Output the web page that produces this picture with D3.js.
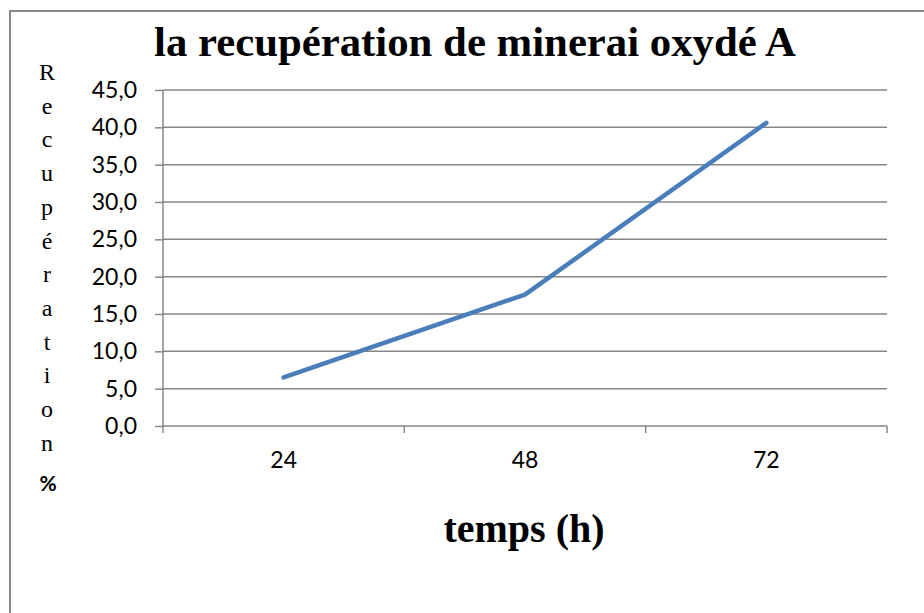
<!DOCTYPE html>
<html>
<head>
<meta charset="utf-8">
<script src="https://cdn.jsdelivr.net/npm/d3@7"></script>
<style>
  body { margin: 0; background: #fff; }
  svg { display: block; }
</style>
</head>
<body>
<svg width="924" height="613"></svg>
<script>
var categories = ["24", "48", "72"];
var recovery = [6.5, 17.6, 40.6];
var yTicks = [0, 5, 10, 15, 20, 25, 30, 35, 40, 45];
var yTitleLetters = ["R", "e", "c", "u", "p", "é", "r", "a", "t", "i", "o", "n"];

var svg = d3.select("svg"),
    width = +svg.attr("width"),
    height = +svg.attr("height");

var plot = { left: 163, right: 887, top: 90, bottom: 426 };
var gridColor = "#868686";

// chart frame, it runs off the right and bottom of the picture
svg.append("rect")
    .attr("x", 10)
    .attr("y", 11)
    .attr("width", 1000)
    .attr("height", 1000)
    .attr("fill", "none")
    .attr("stroke", "#888")
    .attr("stroke-width", 2);

var x = d3.scaleBand()
    .domain(categories)
    .range([plot.left, plot.right]);

var y = d3.scaleLinear()
    .domain([0, 45])
    .range([plot.bottom, plot.top]);

// horizontal gridlines
svg.append("g")
    .attr("class", "grid")
    .selectAll("line")
    .data(yTicks.filter(function(d) { return d > 0; }))
    .enter()
        .append("line")
        .attr("x1", plot.left)
        .attr("x2", plot.right)
        .attr("y1", function(d) { return y(d); })
        .attr("y2", function(d) { return y(d); })
        .attr("stroke", gridColor)
        .attr("stroke-width", 1.5);

// y axis
var yAxis = svg.append("g")
    .attr("transform", "translate(" + plot.left + ",0)")
    .call(d3.axisLeft(y)
        .tickValues(yTicks)
        .tickSize(8)
        .tickPadding(18)
        .tickFormat(function(d) { return d3.format(".1f")(d).replace(".", ","); }));

yAxis.select(".domain").remove();
yAxis.append("line")
    .attr("x1", 0).attr("x2", 0)
    .attr("y1", plot.top).attr("y2", plot.bottom + 7)
    .attr("stroke", gridColor)
    .attr("stroke-width", 1.5);
yAxis.selectAll(".tick line").attr("stroke", gridColor).attr("stroke-width", 1.5);
yAxis.selectAll(".tick text")
    .attr("fill", "#000")
    .style("font-family", "Lato, 'Open Sans', sans-serif")
    .style("font-size", "23px");

// x axis
var xAxis = svg.append("g")
    .attr("transform", "translate(0," + plot.bottom + ")");

xAxis.append("line")
    .attr("x1", plot.left).attr("x2", plot.right)
    .attr("stroke", gridColor)
    .attr("stroke-width", 1.5);

var edges = categories.map(function(c) { return x(c); }).concat([plot.right]);
xAxis.selectAll(".xtick")
    .data(edges.slice(1))
    .enter()
        .append("line")
        .attr("class", "xtick")
        .attr("x1", function(d) { return d; })
        .attr("x2", function(d) { return d; })
        .attr("y1", 0).attr("y2", 7)
        .attr("stroke", gridColor)
        .attr("stroke-width", 1.5);

xAxis.selectAll(".xlabel")
    .data(categories)
    .enter()
        .append("text")
        .attr("class", "xlabel")
        .attr("x", function(d) { return x(d) + x.bandwidth() / 2; })
        .attr("y", 42)
        .attr("text-anchor", "middle")
        .style("font-family", "Lato, 'Open Sans', sans-serif")
        .style("font-size", "23px")
        .text(function(d) { return d; });

// data line
var line = d3.line()
    .x(function(d, i) { return x(categories[i]) + x.bandwidth() / 2; })
    .y(function(d) { return y(d); });

svg.append("path")
    .datum(recovery)
    .attr("d", line)
    .attr("fill", "none")
    .attr("stroke", "#4a7ebb")
    .attr("stroke-width", 4.5)
    .attr("stroke-linecap", "round")
    .attr("stroke-linejoin", "round");

// title
svg.append("text")
    .attr("x", 475)
    .attr("y", 56)
    .attr("text-anchor", "middle")
    .attr("textLength", 642)
    .attr("lengthAdjust", "spacingAndGlyphs")
    .style("font-family", "'Liberation Serif', 'Times New Roman', serif")
    .style("font-weight", "bold")
    .style("font-size", "42px")
    .text("la recupération de minerai oxydé A");

// vertical y title, one letter per line
svg.append("g")
    .selectAll("text")
    .data(yTitleLetters)
    .enter()
        .append("text")
        .attr("x", 47)
        .attr("y", function(d, i) { return 80 + i * 33.7; })
        .attr("text-anchor", "middle")
        .style("font-family", "'Liberation Serif', 'Times New Roman', serif")
        .style("font-size", "24px")
        .text(function(d) { return d; });

svg.append("text")
    .attr("x", 48)
    .attr("y", 491)
    .attr("text-anchor", "middle")
    .style("font-family", "Lato, 'Open Sans', sans-serif")
    .style("font-weight", "bold")
    .style("font-size", "21px")
    .text("%");

// x title
svg.append("text")
    .attr("x", 524)
    .attr("y", 542)
    .attr("text-anchor", "middle")
    .style("font-family", "'Liberation Serif', 'Times New Roman', serif")
    .style("font-weight", "bold")
    .style("font-size", "40px")
    .text("temps (h)");
</script>
</body>
</html>
